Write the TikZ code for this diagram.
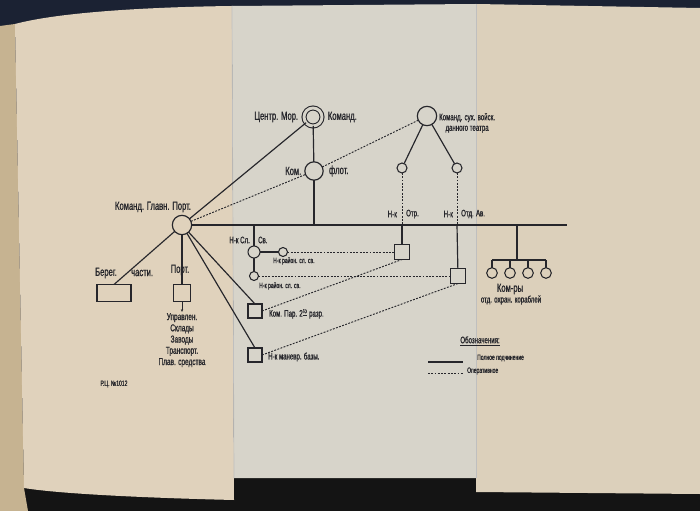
\documentclass[tikz,border=0pt]{standalone}
\usepackage{fontspec}
\setmainfont[FakeStretch=0.65, FakeBold=1]{Liberation Sans}
\usepackage{tikz}
\usetikzlibrary{positioning, arrows.meta, calc}
\definecolor{Ink}{HTML}{26262B}
\definecolor{PaperL}{HTML}{E0D2BC}
\definecolor{PaperM}{HTML}{D7D4CA}
\definecolor{PaperR}{HTML}{DCD0BB}
\definecolor{Desk}{HTML}{1B2233}
\definecolor{BookEdge}{HTML}{C6B391}

\begin{document}
\begin{tikzpicture}[x=0.03cm, y=-0.03cm,
  every node/.style={font=\fontsize{10}{11}\selectfont, text=Ink, inner sep=1pt, outer sep=0pt},
  hub/.style={circle, draw=Ink, line width=1pt, minimum size=0.58cm, inner sep=0pt},
  smallc/.style={circle, draw=Ink, line width=0.9pt, minimum size=0.3cm, inner sep=0pt},
  sqbox/.style={rectangle, draw=Ink, line width=1pt, minimum size=0.42cm, inner sep=0pt},
  lbl/.style={font=\fontsize{10}{11}\selectfont},
  sml/.style={font=\fontsize{8}{9}\selectfont},
  tny/.style={font=\fontsize{6.6}{7}\selectfont},
  solidln/.style={Ink, line width=1pt},
  mainln/.style={Ink, line width=1.4pt},
  operln/.style={Ink, line width=0.8pt, dash pattern=on 1.6pt off 1.2pt},
  arr/.style={-{Stealth[length=2.5pt, width=2pt]}, Ink, line width=0.6pt}
]
  % Photo background
  \useasboundingbox (0,0) rectangle (700,511);
  \fill[Desk] (0,0) rectangle (700,511);
  \fill[black!92] (0,440) rectangle (700,511);
  \fill[BookEdge] (0,26) -- (15,24) -- (24,488) -- (28,511) -- (0,511) -- cycle;
  \fill[PaperL] (15,24) .. controls (60,12) and (150,7) .. (232,6) -- (234,500)
    .. controls (150,498) and (60,494) .. (24,488) -- cycle;
  \fill[PaperM] (232,6) -- (476,4) -- (476,478) -- (234,478) -- cycle;
  \fill[PaperR] (476,4) -- (700,8) -- (700,494) -- (476,492) -- cycle;
  \draw[black!25, line width=0.6pt] (232,6) -- (234,478);
  \draw[black!25, line width=0.6pt] (476,4) -- (476,478);

  % Top: central and land commands
  \node[hub, double=PaperM, double distance=2.5pt, line width=0.9pt, minimum size=0.54cm] (cmor) at (313,117) {};
  \node[lbl, left=4pt of cmor] (cmorL) {Центр. Мор.};
  \node[lbl, right=4pt of cmor] (cmorR) {Команд.};
  \node[hub, minimum size=0.55cm] (fleet) at (314,171) {};
  \node[lbl, left=2pt of fleet] (fleetL) {Ком.};
  \node[lbl, right=4pt of fleet] (fleetR) {флот.};
  \node[hub] (land) at (427,116) {};
  \node[sml, align=center, anchor=west] (landL) at (438,123) {Команд. сух. войск.\\данного театра};
  \node[smallc] (otr) at (402,168) {};
  \node[smallc] (otdav) at (457,168) {};

  % Main port command and main line
  \node[hub] (port) at (182,225) {};
  \node[lbl] (portL) at (153,207) {Команд. Главн. Порт.};
  \coordinate (mainE) at (567,225);
  \coordinate (jsv) at (254,225);
  \coordinate (jfleet) at (314,225);
  \coordinate (jotr) at (402,225);
  \coordinate (jotdav) at (457,225);
  \coordinate (jkor) at (517,225);
  \node[sml, anchor=east] (otrL) at (398,214) {Н-к};
  \node[sml, anchor=west] (otrR) at (405,214) {Отр.};
  \node[sml, anchor=east] (otdavL) at (454,214) {Н-к};
  \node[sml, anchor=west] (otdavR) at (460,214) {Отд. Ав.};

  % Left: coast units and port
  \node[sqbox, minimum width=1.02cm, minimum height=0.51cm] (bereg) at (114,293) {};
  \node[lbl, anchor=east] (beregL) at (118,273) {Берег.};
  \node[lbl, anchor=west] (beregR) at (130,273) {части.};
  \node[sqbox, minimum size=0.52cm] (portb) at (182,293) {};
  \node[lbl] (portbL) at (180,270) {Порт.};
  \node[sml, font=\fontsize{8.5}{9.6}\selectfont, align=center, anchor=north] (portS) at (182,312)
    {Управлен.\\Склады\\Заводы\\Транспорт.\\Плав. средства};

  % Middle: signal service and port boxes
  \node[smallc, minimum size=0.36cm] (sv) at (254,252) {};
  \node[smallc, minimum size=0.27cm] (sv1) at (283,252) {};
  \node[smallc, minimum size=0.27cm] (sv2) at (254,276) {};
  \node[sml, anchor=east] (svL) at (251,240) {Н-к Сл.};
  \node[sml, anchor=west] (svR) at (257,240) {Св.};
  \node[tny, anchor=west] (sv1L) at (272,261) {Н-к район. сл. св.};
  \node[tny, anchor=west] (sv2L) at (258,286) {Н-к район. сл. св.};
  \node[sqbox] (kompar) at (255,311) {};
  \node[sml, anchor=west] (komparL) at (268,314) {Ком. Пар. 2\textsuperscript{\underline{го}} разр.};
  \node[sqbox] (manevr) at (255,355) {};
  \node[sml, anchor=west] (manevrL) at (267,357) {Н-к маневр. базы.};
  \node[sqbox, minimum size=0.45cm] (otrB) at (402,252) {};
  \node[sqbox, minimum size=0.45cm] (otdavB) at (458,276) {};

  % Right: escort ships
  \coordinate (korbar) at (517,260);
  \foreach \i/\x in {1/492, 2/510, 3/528, 4/546}
    \node[smallc, minimum width=0.27cm, minimum height=0.32cm] (kor\i) at (\x,273) {};
  \node[lbl] (korL) at (510,289) {Ком-ры};
  \node[sml] (korS) at (511,300) {отд. охран. кораблей};

  % Legend
  \node[sml] (legT) at (480,341) {\underline{Обозначения:}};
  \coordinate (legA1) at (428,362);
  \coordinate (legA2) at (463,362);
  \coordinate (legB1) at (428,373);
  \coordinate (legB2) at (463,373);
  \node[tny, anchor=west] (legAT) at (476,358) {Полное подчинение};
  \node[tny, anchor=west] (legBT) at (466,371) {Оперативное};
  \node[tny] (stamp) at (114,384) {Р.Ц. №1012};

  % Connections: full subordination
  \draw[mainln] (port.east) -- (mainE);
  \draw[solidln] (port) -- (cmor);
  \draw[solidln] (cmor) -- (fleet);
  \draw[solidln] (fleet) -- (jfleet);
  \draw[solidln] (land) -- (otr);
  \draw[solidln] (land) -- (otdav);
  \draw[solidln] (jotr) -- (otrB);
  \draw[solidln] (jotdav) -- (otdavB);
  \draw[solidln] (port) -- (bereg.north);
  \draw[solidln] (port) -- (portb);
  \draw[solidln] (port) -- (kompar.north);
  \draw[solidln] (port) -- (manevr.north);
  \draw[arr] (portb.south) -- (portS.north);
  \draw[solidln] (jsv) -- (sv);
  \draw[solidln] (sv) -- (sv1);
  \draw[solidln] (sv) -- (sv2);
  \draw[solidln] (jkor) -- (korbar);
  \draw[solidln] (kor1 |- korbar) -- (kor4 |- korbar);
  \foreach \i in {1,...,4}
    \draw[solidln] (kor\i |- korbar) -- (kor\i);

  % Connections: operational
  \draw[operln] (port) -- (fleet);
  \draw[operln] (fleet) -- (land);
  \draw[operln] (otr) -- (jotr);
  \draw[operln] (otdav) -- (jotdav);
  \draw[operln] (sv1) -- (otrB);
  \draw[operln] (sv2) -- (otdavB);
  \draw[operln] (kompar.east) -- (otrB.south);
  \draw[operln] (manevr.east) -- (otdavB.south);

  % Legend lines
  \draw[solidln] (legA1) -- (legA2);
  \draw[operln] (legB1) -- (legB2);
\end{tikzpicture}
\end{document}
